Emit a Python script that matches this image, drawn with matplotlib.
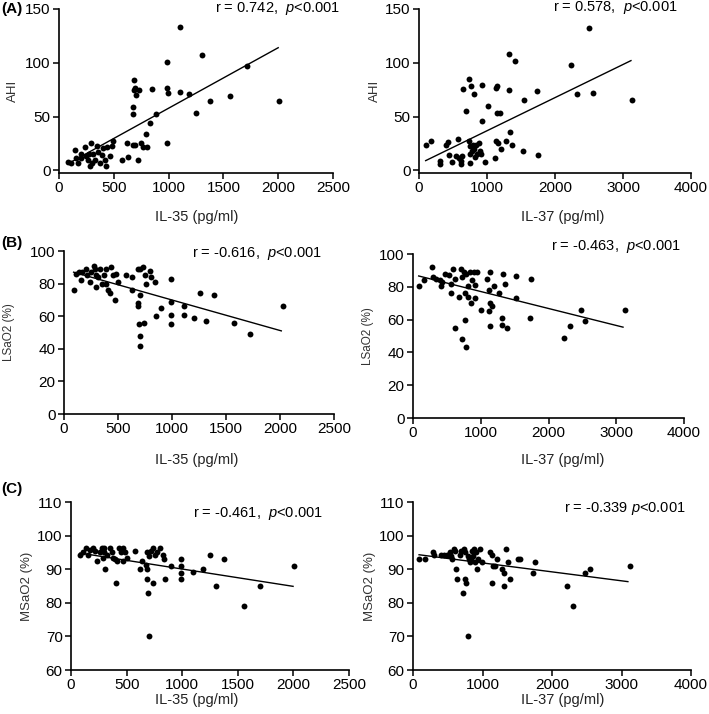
import matplotlib
matplotlib.use("Agg")
import matplotlib.pyplot as plt

plt.rcParams['font.family'] = ['Liberation Sans', 'DejaVu Sans']
plt.rcParams['mathtext.fontset'] = 'custom'
plt.rcParams['mathtext.rm'] = 'Liberation Sans'
plt.rcParams['mathtext.it'] = 'Liberation Sans:italic'

# ---- data ----
# (A) AHI vs IL-35
il35_ahi = [83, 113, 144, 159, 174, 199, 205, 236, 245, 266, 275, 288, 281, 297, 312, 327,
            349, 358, 373, 388, 404, 419, 428, 441, 465, 480, 496, 572, 618, 627, 673, 679,
            688, 695, 685, 704, 734, 679, 695, 725, 747, 765, 802, 796, 832, 848, 887, 985,
            985, 991, 985, 1102, 1102, 1190, 1249, 1301, 1374, 1558, 1711, 2007]
ahi_35 = [8, 7, 19, 11, 7, 15, 11, 22, 13, 10, 15, 25, 4, 7, 15, 10,
          23, 17, 7, 14, 21, 10, 4, 22, 13, 23, 27, 10, 25, 12, 52, 59,
          84, 77, 75, 70, 75, 24, 24, 10, 25, 22, 22, 34, 44, 76, 52, 101,
          77, 72, 25, 133, 73, 71, 53, 107, 64, 69, 97, 64]

# (A) AHI vs IL-37
il37_ahi = [98, 172, 304, 314, 402, 427, 437, 486, 540, 574, 584, 613, 623, 633, 648, 697,
            731, 736, 746, 746, 756, 771, 780, 795, 805, 810, 829, 844, 859, 878, 893, 908,
            928, 928, 967, 1016, 1114, 1129, 1139, 1153, 1153, 1163, 1188, 1202, 1286, 1325,
            1325, 1345, 1374, 1418, 1531, 1546, 1737, 1757, 2233, 2326, 2493, 2552, 3131]
ahi_37 = [24, 27, 8.5, 6, 24, 26, 14, 7.6, 13, 29, 11.6, 9, 6, 13, 76, 55,
          85, 27, 23, 15, 7, 78, 18, 24, 71, 20, 12, 24, 15, 25, 18, 15,
          79, 46, 7.6, 60, 11.6, 27, 77, 78, 53, 25, 53, 20, 27, 108,
          75, 36, 24, 102, 18, 65, 74, 14, 98, 71, 132, 72, 65]

# (B) LSaO2 vs IL-35
il35_lsa = [89, 108, 139, 154, 170, 201, 213, 238, 253, 275, 284, 293, 299, 318, 330, 355,
            367, 386, 392, 407, 423, 438, 454, 469, 478, 500, 577, 633, 633, 685, 685, 685,
            694, 700, 707, 707, 700, 731, 738, 753, 762, 799, 809, 839, 849, 901, 994, 994,
            994, 994, 1108, 1108, 1200, 1256, 1312, 1386, 1571, 1725, 2027]
lsa_35 = [76, 86, 87, 82, 87, 89, 85, 81, 87, 91, 89, 78, 85, 84, 89, 80,
          85, 89, 80, 76, 74, 90, 85, 70, 86, 81, 85, 84, 76, 89, 68, 66,
          55, 48, 89, 42, 73, 90, 56, 85, 80, 88, 84, 81, 60, 65, 83, 69,
          61, 55, 66, 61, 59, 74, 57, 73, 56, 49, 66]

# (B) LSaO2 vs IL-37
il37_lsa = [84, 157, 285, 295, 344, 394, 418, 428, 467, 526, 556, 566, 590, 615, 625, 674,
            713, 723, 723, 753, 763, 763, 787, 787, 812, 812, 836, 851, 871, 900, 910, 910,
            950, 999, 1097, 1117, 1122, 1132, 1132, 1132, 1166, 1196, 1264, 1319, 1319, 1328,
            1353, 1392, 1515, 1525, 1722, 1747, 2224, 2312, 2485, 2544, 3124]
lsa_37 = [80.5, 84, 92, 86, 85, 84, 80.5, 83, 88, 87, 76, 82, 91, 85, 55, 74,
          91, 48, 86, 89, 60, 76, 43, 88, 80.5, 74, 89, 70, 84, 89, 81, 73,
          89, 66, 85, 78, 65, 89, 70, 56, 68, 80.5, 76, 61, 57, 88,
          81.5, 55, 86.5, 73, 61, 84.5, 49, 56, 66, 59, 66]

# (C) MSaO2 vs IL-35
il35_msa = [81, 105, 135, 156, 171, 201, 216, 237, 260, 275, 284, 296, 296, 305, 326, 350,
            365, 374, 395, 404, 416, 434, 446, 464, 470, 485, 500, 575, 620, 635, 674, 680,
            686, 686, 695, 704, 704, 716, 734, 740, 755, 775, 799, 823, 835, 844, 895, 985,
            985, 985, 985, 1099, 1189, 1249, 1302, 1374, 1557, 1704, 2003]
msa_35 = [94.1, 95, 96.3, 94.3, 95.6, 96.3, 95.3, 92.3, 95, 96.3, 93.3, 96.3, 95, 90.1, 94.3, 96.3,
          95, 93.3, 93, 86, 92.3, 96.3, 95, 96.3, 92.3, 95, 93.3, 95.3, 90.1, 92.3, 91.3, 95,
          90, 87, 83, 94, 70, 95.3, 86, 96.3, 94.3, 95, 96.3, 94.3, 93, 87, 91, 93,
          91, 89, 87, 89.1, 90, 94.1, 85, 93, 79.1, 85, 91.1]

# (C) MSaO2 vs IL-37
il37_msa = [87, 168, 288, 303, 399, 447, 495, 529, 553, 568, 591, 611, 625, 639, 673, 697,
            721, 731, 745, 755, 760, 793, 793, 808, 817, 841, 851, 865, 880, 899, 913, 928,
            938, 962, 995, 1106, 1130, 1140, 1144, 1178, 1202, 1274, 1313, 1313, 1332, 1361,
            1394, 1514, 1539, 1731, 1755, 2221, 2308, 2476, 2548, 3116]
msa_37 = [93.1, 93.1, 95, 94.3, 94.1, 94.1, 94.1, 95, 93.8, 93, 96.1, 95.3, 90.1, 87, 94.3, 95.3,
          83, 96.1, 95, 87, 86, 70, 94, 93, 92, 93, 95.3, 94, 96, 92, 95, 90,
          93, 96, 92, 95.1, 86, 94.3, 91, 91, 93, 90, 89, 85, 96.1, 92.1,
          87, 93, 93, 89, 92.1, 85, 79.1, 89, 90, 91.1]

# regression line end points
fit_a35_x, fit_a35_y = [80, 2000], [6, 114]
fit_a37_x, fit_a37_y = [98, 3117], [9, 102]
fit_b35_x, fit_b35_y = [89, 2012], [87, 51]
fit_b37_x, fit_b37_y = [84, 3100], [86.6, 55.4]
fit_c35_x, fit_c35_y = [81, 1997], [94.8, 84.9]
fit_c37_x, fit_c37_y = [87, 3092], [94.3, 86.3]

stats = ["r = 0.742,  $p$<0.001", "r = 0.578,  $p$<0.001",
         "r = -0.616,  $p$<0.001", "r = -0.463,  $p$<0.001",
         "r = -0.461,  $p$<0.001", "r = -0.339 $p$<0.001"]

fig = plt.figure(figsize=(7.09, 7.14), dpi=100)
W, H = 709, 714


def make_ax(x0, x1, y0, y1):
    # pixel box -> figure fraction
    return fig.add_axes([x0 / W, 1 - y1 / H, (x1 - x0) / W, (y1 - y0) / H])


panels = [
    # x, y, fit x, fit y, box, xlim, xticks, ylim, yticks, xlabel, ylabel, ylabel size, text pos, ylabel x, xlabel pos
    (il35_ahi, ahi_35, fit_a35_x, fit_a35_y, (59, 333, 9, 173), (0, 2500), [0, 500, 1000, 1500, 2000, 2500],
     (-2.5, 150), [0, 50, 100, 150], 'IL-35 (pg/ml)', 'AHI', 9.5, (1.026, 1.005), -0.168, (0.504, -0.268)),
    (il37_ahi, ahi_37, fit_a37_x, fit_a37_y, (419, 691, 9, 173), (0, 4000), [0, 1000, 2000, 3000, 4000],
     (-2.5, 150), [0, 50, 100, 150], 'IL-37 (pg/ml)', 'AHI', 9.5, (0.952, 1.008), -0.162, (0.53, -0.268)),
    (il35_lsa, lsa_35, fit_b35_x, fit_b35_y, (64, 334, 251, 414), (0, 2500), [0, 500, 1000, 1500, 2000, 2500],
     (0, 100), [0, 20, 40, 60, 80, 100], 'IL-35 (pg/ml)', 'LSaO2 (%)', 8.5, (0.956, 0.982), -0.204, (0.49, -0.282)),
    (il37_lsa, lsa_37, fit_b37_x, fit_b37_y, (413, 684, 254, 418), (0, 4000), [0, 1000, 2000, 3000, 4000],
     (0, 100), [0, 20, 40, 60, 80, 100], 'IL-37 (pg/ml)', 'LSaO2 (%)', 8.5, (0.989, 1.043), -0.166, (0.553, -0.256)),
    (il35_msa, msa_35, fit_c35_x, fit_c35_y, (71, 349, 502, 670), (0, 2500), [0, 500, 1000, 1500, 2000, 2500],
     (60, 110), [60, 70, 80, 90, 100, 110], 'IL-35 (pg/ml)', 'MSaO2 (%)', 9.5, (0.906, 0.929), -0.158, (0.453, -0.179)),
    (il37_msa, msa_37, fit_c37_x, fit_c37_y, (413, 691, 502, 670), (0, 4000), [0, 1000, 2000, 3000, 4000],
     (60, 110), [60, 70, 80, 90, 100, 110], 'IL-37 (pg/ml)', 'MSaO2 (%)', 9.5, (0.982, 0.964), -0.155, (0.54, -0.179)),
]

for i, (xs, ys, fx, fy, box, xl, xt, yl, yt, xlab, ylab, ylsize, tpos, ylx, xlpos) in enumerate(panels):
    ax = make_ax(*box)
    ax.scatter(xs, ys, s=18, c='black', linewidths=0, zorder=3, clip_on=False)
    ax.plot(fx, fy, color='black', lw=1.0)
    ax.set_xlim(*xl)
    ax.set_ylim(*yl)
    ax.set_xticks(xt)
    ax.set_yticks(yt)
    for s in ['top', 'right']:
        ax.spines[s].set_visible(False)
    for s in ['left', 'bottom']:
        ax.spines[s].set_linewidth(1.2)
    ax.tick_params(direction='out', length=4, width=1.1, labelsize=11, pad=2)
    ax.set_xlabel(xlab, fontsize=10.5, color='#222222')
    ax.set_ylabel(ylab, fontsize=ylsize, color='#333333')
    ax.xaxis.set_label_coords(*xlpos)
    ax.xaxis.label.set_va('center')
    ax.yaxis.set_label_coords(ylx, 0.5)
    ax.yaxis.label.set_va('center')
    ax.text(tpos[0], tpos[1], stats[i], transform=ax.transAxes, ha='right', va='center', fontsize=10.5)

fig.text(1 / W, 1 - 9 / H, '(A)', fontsize=11, fontweight='bold', va='center', ha='left')
fig.text(1 / W, 1 - 243 / H, '(B)', fontsize=11, fontweight='bold', va='center', ha='left')
fig.text(1 / W, 1 - 489 / H, '(C)', fontsize=11, fontweight='bold', va='center', ha='left')

fig.savefig('out.png', dpi=100)
